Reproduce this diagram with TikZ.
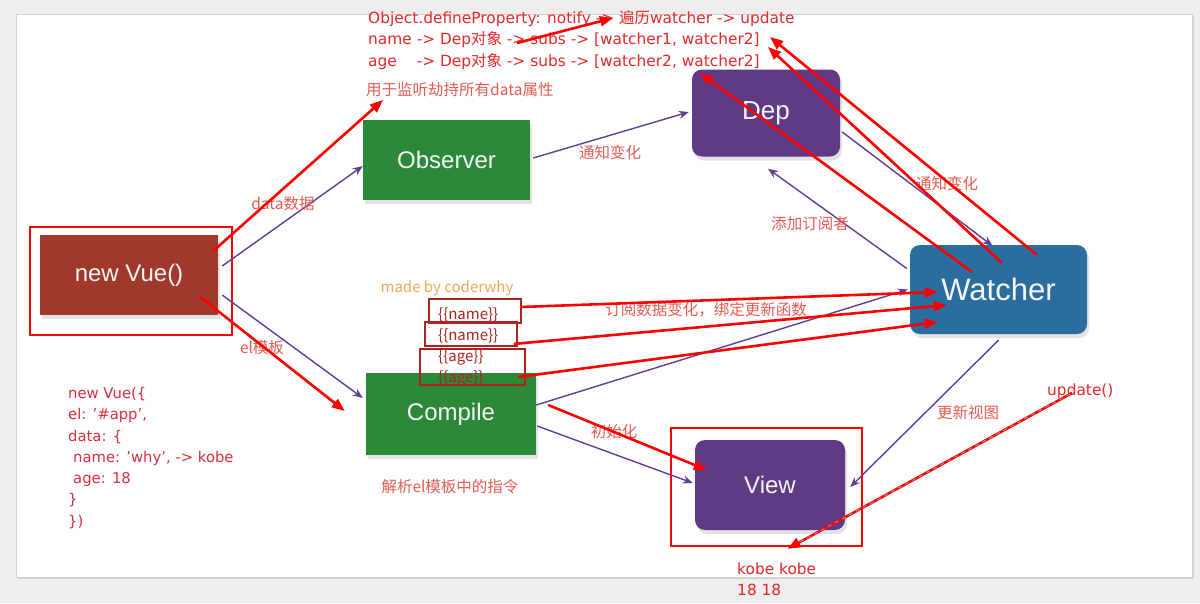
\documentclass[tikz,border=0pt]{standalone}
\usepackage{fontspec}
\setmainfont{DejaVu Sans}
\newfontfamily\zh{Noto Sans CJK SC}
\newfontfamily\labfont{Liberation Sans}
\usetikzlibrary{arrows.meta,positioning,calc,shadows}

\definecolor{vuered}{RGB}{160,57,43}
\definecolor{obsgreen}{RGB}{44,137,58}
\definecolor{deppurple}{RGB}{96,58,132}
\definecolor{watblue}{RGB}{41,110,158}
\definecolor{linkpurple}{RGB}{98,62,150}
\definecolor{notered}{RGB}{232,40,40}
\definecolor{labred}{RGB}{228,92,84}
\definecolor{codered}{RGB}{214,48,64}
\definecolor{madeorange}{RGB}{242,168,88}
\definecolor{boxred}{RGB}{176,34,34}
\definecolor{pagegray}{RGB}{238,238,238}

\newcommand{\sq}{\char"0027\relax}

\begin{document}
\begin{tikzpicture}[
    x=1pt, y=-1pt,
    block/.style={rectangle, inner sep=0pt, text=white!92!gray, font=\labfont\fontsize{24}{28}\selectfont, drop shadow={opacity=0.22, shadow xshift=2pt, shadow yshift=-4pt}},
    greenblock/.style={block, fill=obsgreen},
    roundblock/.style={block, rounded corners=10pt},
    redframe/.style={rectangle, draw=red, line width=1.6pt, inner sep=0pt},
    boxframe/.style={rectangle, draw=boxred, line width=1.8pt, inner sep=0pt},
    purplelink/.style={-{Stealth[length=10pt,width=8pt]}, draw=linkpurple, line width=1.4pt},
    redarrow/.style={-{Triangle[length=13pt,width=10pt]}, draw=red, line width=2.6pt},
    hint/.style={text=labred, inner sep=1pt, font=\zh\fontsize{15.5}{18}\selectfont},
    toptext/.style={text=notered, anchor=west, inner sep=0pt, font=\fontsize{15.4}{18}\selectfont},
    tmpltext/.style={text=boxred, anchor=west, inner sep=0pt, font=\zh\fontsize{15}{18}\selectfont},
]

% page
\fill[pagegray] (0,0) rectangle (1200,603);
\useasboundingbox (0,0) rectangle (1200,603);
\path[fill=white, draw=black!18, drop shadow={opacity=0.25, shadow xshift=2pt, shadow yshift=-2pt}] (16,14) rectangle (1192,577);

% main blocks
\node[block, fill=vuered, minimum width=178pt, minimum height=80pt] (newvue) at (129,275) {new Vue()};
\node[redframe, minimum width=202pt, minimum height=108pt] (nvframe) at (131,281) {};
\node[greenblock, minimum width=167pt, minimum height=80pt] (obs) at (446.5,160) {Observer};
\node[greenblock, minimum width=170pt, minimum height=82pt] (comp) at (451,414) {Compile};
\node[roundblock, fill=deppurple, minimum width=148pt, minimum height=87pt, font=\labfont\fontsize{26}{30}\selectfont] (dep) at (766,113) {\raisebox{-4pt}{Dep}};
\node[roundblock, fill=watblue, minimum width=177pt, minimum height=89pt, font=\labfont\fontsize{31}{36}\selectfont] (wat) at (998.5,289.5) {Watcher};
\node[roundblock, fill=deppurple, minimum width=150pt, minimum height=90pt] (view) at (770,485) {View};
\node[redframe, minimum width=191pt, minimum height=118pt] (viewframe) at (766.5,487) {};

% purple flow
\draw[purplelink] ($(newvue.east)+(4,-9)$) -- ($(obs.west)+(0,6)$);
\draw[purplelink] ($(newvue.east)+(4,20)$) -- ($(comp.west)+(-3,-16)$);
\draw[purplelink] ($(obs.east)+(3,-2)$) -- ($(dep.west)+(-3,-1)$);
\draw[purplelink] ($(dep.east)+(2,19)$) -- ($(wat.north)+(-6,1)$);
\draw[purplelink] ($(wat.west)+(-3,-21)$) -- ($(dep.south)+(2,12)$);
\draw[purplelink] ($(comp.east)+(0,-9)$) -- ($(wat.west)+(-2,0)$);
\draw[purplelink] ($(comp.east)+(1,12)$) -- ($(view.west)+(-2,-2)$);
\draw[purplelink] ($(wat.south)+(0,6)$) -- ($(view.east)+(5,2)$);

% labels
\node[hint] (datalab) at (283,204) {data数据};
\node[hint] (ellab) at (262,348) {el模板};
\node[hint] (notify1) at (610,153) {通知变化};
\node[hint] (notify2) at (947,184) {通知变化};
\node[hint] (addsub) at (810,224) {添加订阅者};
\node[hint] (subchg) at (706,310) {订阅数据变化，绑定更新函数};
\node[hint] (initlab) at (614,432) {初始化};
\node[hint] (updview) at (968,413) {更新视图};
\node[hint, anchor=west] (observe) at (365,90) {用于监听劫持所有data属性};
\node[hint] (parse) at (450,487) {解析el模板中的指令};
\node[text=madeorange, inner sep=0pt, font=\zh\fontsize{15}{18}\selectfont] (made) at (447,288) {made by coderwhy};

% notes
\node[toptext] (t1) at (368,19) {Object.defineProperty: notify -> {\zh 遍历}watcher -> update};
\node[toptext] (t2) at (368,40) {name -> Dep{\zh 对象} -> subs -> [watcher1, watcher2]};
\node[toptext] (t3) at (368,62) {\rlap{age}\phantom{name} -> Dep{\zh 对象} -> subs -> [watcher2, watcher2]};
\node[text=codered, anchor=north west, inner sep=0pt, align=left, font=\fontsize{14.8}{21.3}\selectfont] (code) at (68,387)
    {new Vue(\{\\ el: \sq\#app\sq,\\ data: \{\\ \hspace*{5pt}name: \sq why\sq, -> kobe\\ \hspace*{5pt}age: 18\\ \}\\ \})};
\node[toptext] (upd) at (1047,391) {update()};
\node[toptext] (kobe) at (737,569) {kobe kobe};
\node[toptext] (ages) at (737,590) {18 18};

% template boxes
\node[boxframe, minimum width=92pt, minimum height=24pt] (b1) at (475,311) {};
\node[boxframe, minimum width=92pt, minimum height=24pt] (b2) at (471,334) {};
\node[boxframe, minimum width=105pt, minimum height=36pt] (b3) at (472.5,367) {};
\node[tmpltext] (n1) at (438,315) {\{\{name\}\}};
\node[tmpltext] (n2) at (438,336) {\{\{name\}\}};
\node[tmpltext] (a1) at (438,357) {\{\{age\}\}};
\node[tmpltext] (a2) at (438,378) {\{\{age\}\}};

% red overlay
\draw[redarrow] ($(newvue.east)+(-5,-24)$) -- ($(observe.west)+(18,10)$);
\draw[redarrow] ($(newvue.east)+(-18,22)$) -- ($(comp.west)+(-21,-3)$);
\draw[redarrow] ($(t2.west)+(149,3)$) -- ($(t1.west)+(245,-1)$);
\draw[redarrow] ($(wat.north west)+(62,27)$) -- ($(t3.west)+(332,11)$);
\draw[redarrow] ($(wat.north west)+(92,18)$) -- ($(t2.west)+(400,7)$);
\draw[redarrow] ($(wat.north west)+(127,10)$) -- ($(t1.west)+(402,18)$);
\draw[redarrow] ($(b1.east)+(-1,-4)$) -- ($(wat.west)+(28,2.5)$);
\draw[redarrow] ($(b2.south east)+(-4,-3)$) -- ($(wat.west)+(37,15.5)$);
\draw[redarrow] ($(b3.east)+(-8,10)$) -- ($(wat.west)+(28,32.5)$);
\draw[redarrow] ($(comp.east)+(12,-9)$) -- ($(view.west)+(12,-15)$);
\draw[redarrow] ($(upd.west)+(25,2)$) -- ($(viewframe.south)+(21,2)$);
\draw[gray!80, line width=0.9pt, dash pattern=on 4pt off 4pt] ($(upd.west)+(23,3)$) -- ($(viewframe.south)+(32,-4)$);

\end{tikzpicture}
\end{document}
